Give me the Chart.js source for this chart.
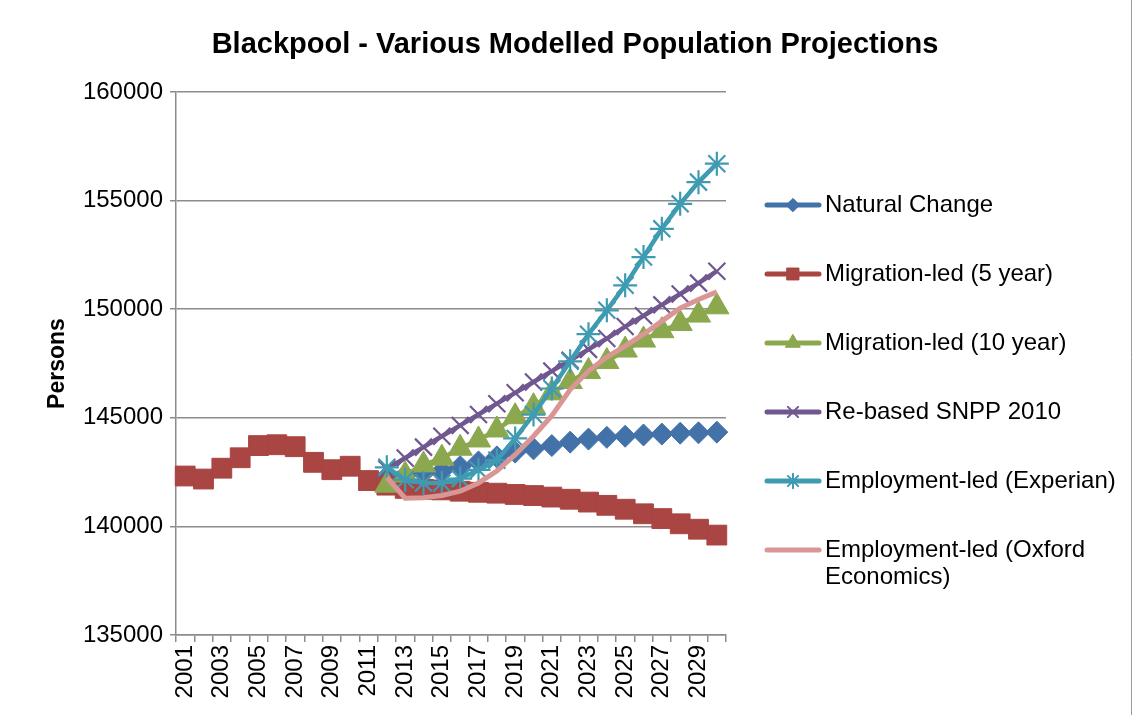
<!DOCTYPE html>
<html><head><meta charset="utf-8">
<script src="https://cdn.jsdelivr.net/npm/chart.js@4.4.0/dist/chart.umd.min.js"></script>
<style>html,body{margin:0;padding:0;background:#fff;}#wrap{width:1134px;height:715px;position:relative;}</style>
</head><body><div id="wrap"><canvas id="c" width="1134" height="715"></canvas></div>
<script>
const years = ['2001','2002','2003','2004','2005','2006','2007','2008','2009','2010',
  '2011','2012','2013','2014','2015','2016','2017','2018','2019','2020',
  '2021','2022','2023','2024','2025','2026','2027','2028','2029','2030'];
const pre = [null,null,null,null,null,null,null,null,null,null,null];
const naturalChange = pre.concat([142300,142350,142450,142550,142750,142970,143200,143420,143570,143720,143880,144020,144100,144150,144210,144250,144290,144310,144340]);
const migration5 = [142320,142180,142680,143160,143720,143760,143670,142950,142610,142770,142110,141900,141750,141700,141680,141620,141570,141530,141470,141420,141350,141250,141120,140970,140790,140580,140360,140120,139870,139600];
const migration10 = pre.concat([141900,142370,142830,143140,143600,143980,144440,145050,145510,146150,146670,147130,147590,148120,148580,149010,149340,149730,150110]);
const snpp2010 = pre.concat([142650,143150,143650,144150,144650,145150,145650,146150,146650,147150,147650,148150,148650,149200,149700,150200,150700,151200,151750]);
const experian = pre.concat([142720,142150,142000,142000,142200,142600,143050,144050,145150,146350,147600,148850,149950,151100,152400,153700,154850,155850,156700]);
const oxford = pre.concat([142250,141300,141320,141420,141620,142000,142550,143300,144150,145100,146300,147150,147800,148300,148850,149450,150050,150450,150800]);
const seriesNames = ['Natural Change','Migration-led (5 year)','Migration-led (10 year)','Re-based SNPP 2010','Employment-led (Experian)',['Employment-led (Oxford','Economics)']];
const yTicks = [135000,140000,145000,150000,155000,160000];

const FONT = "'Liberation Sans', Arial, sans-serif";
const colors = ['#4372A9','#A94542','#8BA84E','#71578F','#3F9BB2','#D99694'];
const styles = ['rectRot','rect','triangle','crossRot','star',false];
const radii = [11,14,14,12,12,0];
const seriesData = [naturalChange,migration5,migration10,snpp2010,experian,oxford];

const datasets = seriesData.map((d,i)=>({
  label: Array.isArray(seriesNames[i]) ? seriesNames[i].join(' ') : seriesNames[i],
  data: d,
  borderColor: colors[i],
  backgroundColor: colors[i],
  pointBackgroundColor: colors[i],
  pointBorderColor: colors[i],
  pointStyle: styles[i] || 'circle',
  pointRadius: radii[i],
  pointBorderWidth: (i===3||i===4) ? 2.2 : 1,
  borderWidth: i===5 ? 5 : 4.5,
  tension: 0,
  spanGaps: false,
  order: -i
}));

const decor = {
  id: 'decor',
  afterDraw(chart){
    const ctx = chart.ctx;
    ctx.save();
    // outer frame
    ctx.strokeStyle = '#9a9a9a';
    ctx.lineWidth = 1;
    ctx.beginPath(); ctx.moveTo(1131.5,0); ctx.lineTo(1131.5,715); ctx.stroke();
    // title
    ctx.fillStyle = '#000';
    ctx.font = "bold 29px " + FONT;
    ctx.textAlign = 'center';
    ctx.textBaseline = 'middle';
    ctx.fillText('Blackpool - Various Modelled Population Projections', 575, 45);
    // legend
    const rowY = [205,274,343,412,481,550];
    ctx.font = "24px " + FONT;
    ctx.textAlign = 'left';
    seriesNames.forEach((name,i)=>{
      const y = rowY[i];
      ctx.strokeStyle = colors[i];
      ctx.lineWidth = 5;
      ctx.lineCap = 'round';
      ctx.beginPath(); ctx.moveTo(767,y); ctx.lineTo(819,y); ctx.stroke();
      if (styles[i]) {
        ctx.fillStyle = colors[i];
        ctx.strokeStyle = colors[i];
        ctx.lineWidth = (i===3||i===4) ? 2 : 1;
        Chart.helpers.drawPoint(ctx, {pointStyle: styles[i], radius: radii[i]*0.6, rotation: 0, borderWidth: ctx.lineWidth}, 793, y);
        if (i!==3 && i!==4) ctx.fill();
      }
      ctx.fillStyle = '#000';
      const lines = Array.isArray(name) ? name : [name];
      lines.forEach((t,k)=> ctx.fillText(t, 825, y + k*27));
    });
    ctx.restore();
  }
};

new Chart(document.getElementById('c'), {
  type: 'line',
  data: { labels: years, datasets },
  options: {
    responsive: false,
    animation: false,
    devicePixelRatio: 1,
    layout: { padding: { top: 92, right: 408, left: 0, bottom: 0 } },
    plugins: { legend: { display: false }, title: { display: false }, tooltip: { enabled: false } },
    elements: { line: { tension: 0 } },
    scales: {
      x: {
        type: 'category',
        offset: true,
        grid: { offset: true, drawOnChartArea: false, drawTicks: true, tickLength: 7, tickColor: '#8c8c8c', color: '#8c8c8c', lineWidth: 1.5 },
        border: { color: '#8c8c8c', width: 1.5 },
        ticks: {
          autoSkip: false, minRotation: 90, maxRotation: 90, padding: 3,
          color: '#000', font: { family: FONT, size: 24 },
          callback: (v, i) => (i % 2 === 0 ? years[i] : '')
        },
        afterFit: s => { s.height = 80; }
      },
      y: {
        min: yTicks[0], max: yTicks[yTicks.length-1],
        afterBuildTicks: s => { s.ticks = yTicks.map(v => ({ value: v })); },
        grid: { color: '#8c8c8c', lineWidth: 1.5, tickLength: 6, tickColor: '#8c8c8c' },
        border: { color: '#8c8c8c', width: 1.5 },
        ticks: { color: '#000', padding: 7, font: { family: FONT, size: 24 }, callback: v => String(v) },
        title: { display: true, text: 'Persons', color: '#000', font: { family: FONT, size: 23, weight: 'bold' }, padding: { top: 44, bottom: 0 } },
        afterFit: s => { s.width = 176; }
      }
    }
  },
  plugins: [decor]
});
</script></body></html>
